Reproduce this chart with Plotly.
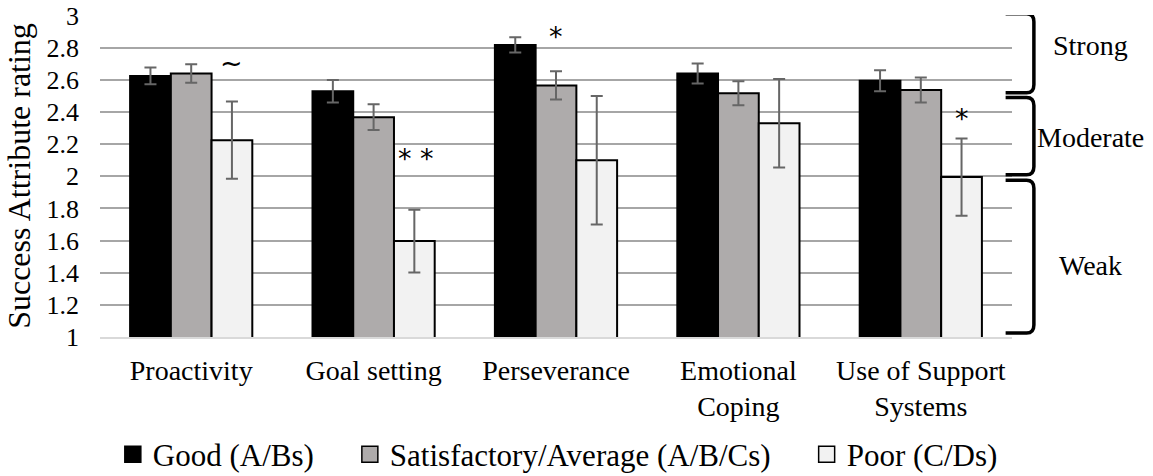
import plotly.graph_objects as go

categories = ["Proactivity", "Goal setting", "Perseverance", "Emotional<br>Coping", "Use of Support<br>Systems"]
series_names = ["Good (A/Bs)", "Satisfactory/Average (A/B/Cs)", "Poor (C/Ds)"]
good = [2.625, 2.53, 2.818, 2.64, 2.595]
satisfactory = [2.64, 2.368, 2.566, 2.517, 2.537]
poor = [2.225, 1.597, 2.10, 2.33, 1.995]
good_err = [0.052, 0.07, 0.047, 0.062, 0.065]
satisfactory_err = [0.057, 0.08, 0.088, 0.075, 0.078]
poor_err = [0.24, 0.195, 0.40, 0.275, 0.24]
colors = ["#000000", "#AEABAB", "#F2F2F2"]

y_ticks = [1, 1.2, 1.4, 1.6, 1.8, 2, 2.2, 2.4, 2.6, 2.8, 3]
y_tick_labels = ["1", "1.2", "1.4", "1.6", "1.8", "2", "2.2", "2.4", "2.6", "2.8", "3"]

# significance markers: (category position, y value, text)
sig_x = [0.22, 1.235, 2.0, 4.225]
sig_y = [2.71, 2.11, 2.87, 2.36]
sig_text = ["~", "* *", "*", "*"]

# rating bands: (top, bottom, label, label y)
bands = [(3.012, 2.52, "Strong", 2.814), (2.49, 2.01, "Moderate", 2.242), (1.975, 1.025, "Weak", 1.447)]

FONT = "Liberation Serif"
NB = "\u00a0"

fig = go.Figure()
for name, vals, errs, col in zip(series_names, [good, satisfactory, poor],
                                  [good_err, satisfactory_err, poor_err], colors):
    fig.add_trace(go.Bar(
        name=name, x=categories, y=vals, base=0, showlegend=False,
        marker=dict(color=col, line=dict(color="#000000", width=2)),
        error_y=dict(type="data", array=errs, visible=True, color="#666666",
                     thickness=2, width=6),
    ))
# legend entries with larger square swatches
pads = [NB * 4, NB * 4, ""]
for name, col, pad in zip(series_names, colors, pads):
    fig.add_trace(go.Scatter(
        name=name + pad, x=[categories[0]], y=[None], mode="markers",
        marker=dict(symbol="square", size=19, color=col, line=dict(color="#000000", width=1.5)),
        showlegend=True, hoverinfo="skip",
    ))

for xo, yv, t in zip(sig_x, sig_y, sig_text):
    fig.add_annotation(x=xo, y=yv, xref="x", yref="y", text=t, showarrow=False,
                       font=dict(family="DejaVu Sans", size=27, color="#000"))

x0, x1 = 0.993, 1.024
for top, bot, lab, ly in bands:
    r = 0.05
    fig.add_shape(type="path", xref="paper", yref="y",
                  path=(f"M {x0} {top} L {x1-0.008} {top} Q {x1} {top} {x1} {top-r} "
                        f"L {x1} {bot+r} Q {x1} {bot} {x1-0.008} {bot} L {x0} {bot}"),
                  line=dict(color="#000000", width=3.5))
    fig.add_annotation(x=1.086, y=ly, xref="paper", yref="y", text=lab, showarrow=False,
                       xanchor="center", yanchor="middle",
                       font=dict(family=FONT, size=28, color="#000"))

fig.update_layout(
    width=1153, height=476,
    margin=dict(l=100, r=141, t=15, b=139, autoexpand=False),
    paper_bgcolor="white", plot_bgcolor="white",
    barmode="group", bargap=0.33, bargroupgap=0,
    font=dict(family=FONT, size=28, color="#000"),
    showlegend=True,
    legend=dict(orientation="h", x=0.502, xanchor="center", y=-0.365, yanchor="middle",
                font=dict(family=FONT, size=31, color="#000"), itemwidth=30,
                traceorder="normal", tracegroupgap=0),
)
fig.update_xaxes(showgrid=False, showline=True, linecolor="#D9D9D9", linewidth=2,
                 tickfont=dict(family=FONT, size=28, color="#000"), ticks="",
                 ticklabelstandoff=7, fixedrange=True)
fig.update_yaxes(range=[1, 3.004], tickvals=y_ticks, ticktext=y_tick_labels,
                 showgrid=True, gridcolor="#A6A6A6", gridwidth=2, zeroline=False,
                 tickfont=dict(family=FONT, size=26, color="#000"),
                 ticklabelstandoff=20, ticklabeloverflow="allow",
                 title=dict(text="Success Attribute rating", font=dict(family=FONT, size=32), standoff=6),
                 ticks="", showline=False, fixedrange=True)

fig.write_html("out.html", config={"displayModeBar": False},
               post_script="document.body.style.margin='0';")
